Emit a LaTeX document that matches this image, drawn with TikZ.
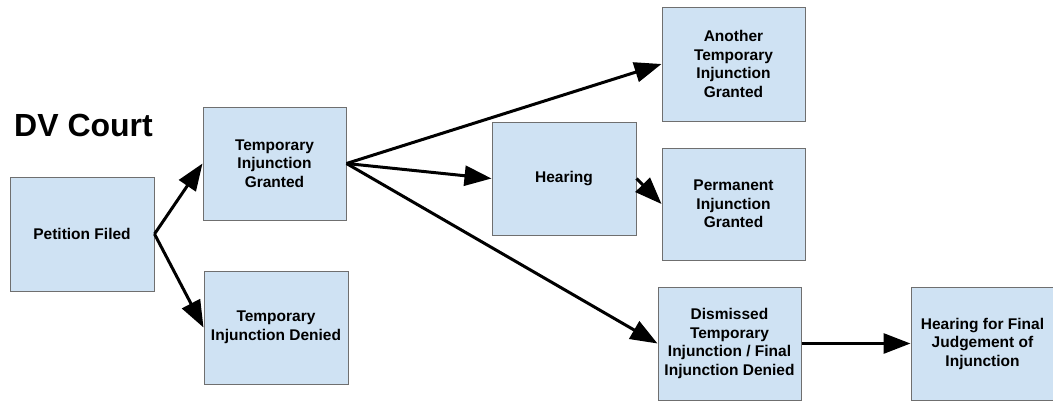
\documentclass[tikz,border=0pt]{standalone}
\usepackage{fontspec}
\setmainfont{Liberation Sans}
\usepackage{xcolor}
\usetikzlibrary{arrows.meta}
\definecolor{boxfillc}{HTML}{CFE2F3}
\definecolor{boxdrawc}{HTML}{6F6F6F}
\tikzstyle{courtbox} = [
    draw=boxdrawc,
    fill=boxfillc,
    line width=1pt,
    rectangle,
    minimum width=143pt,
    minimum height=113pt,
    inner sep=2pt,
    align=center,
    font=\fontsize{15.5pt}{18.5pt}\selectfont\bfseries
    ]
\tikzstyle{flowarrow} = [
    line width=3pt,
    -{Triangle[length=27pt,width=20pt]}
    ]

\begin{document}
\begin{tikzpicture}[x=1pt,y=-1pt]
\useasboundingbox (0,0) rectangle (1053,400);
\clip (0,0) rectangle (1053,400);
\node[anchor=base west, inner sep=0pt, font=\fontsize{32pt}{36pt}\selectfont\bfseries] (title) at (14,136) {DV Court};

\node[courtbox, minimum width=144pt, minimum height=114pt] (petition) at (82,234) {Petition Filed};
\node[courtbox] (tig) at (274.5,163.5) {Temporary\\Injunction\\Granted};
\node[courtbox, minimum width=144pt] (tid) at (276,327.5) {Temporary\\Injunction Denied};
\node[courtbox, minimum width=144pt] (hearing) at (564,178.5) {Hearing};
\node[courtbox, minimum height=114pt] (another) at (733.5,64) {Another\\Temporary\\Injunction\\Granted};
\node[courtbox, minimum height=112pt] (permanent) at (733.5,204) {Permanent\\Injunction\\Granted};
\node[courtbox] (dismissed) at (729.5,343.5) {Dismissed\\Temporary\\Injunction / Final\\Injunction Denied};
\node[courtbox] (final) at (982.5,343.5) {Hearing for Final\\Judgement of\\Injunction};

% arrows
\draw[flowarrow] (petition.east) -- (tig.west);
\draw[flowarrow] (petition.east) -- (tid.west);
\draw[flowarrow] (tig.east) -- (another.west);
\draw[flowarrow] (tig.east) -- (hearing.west);
\draw[flowarrow] (tig.east) -- (dismissed.west);
\draw[flowarrow] (hearing.east) -- (permanent.west);
\draw[flowarrow] (dismissed.east) -- (final.west);
\end{tikzpicture}
\end{document}
